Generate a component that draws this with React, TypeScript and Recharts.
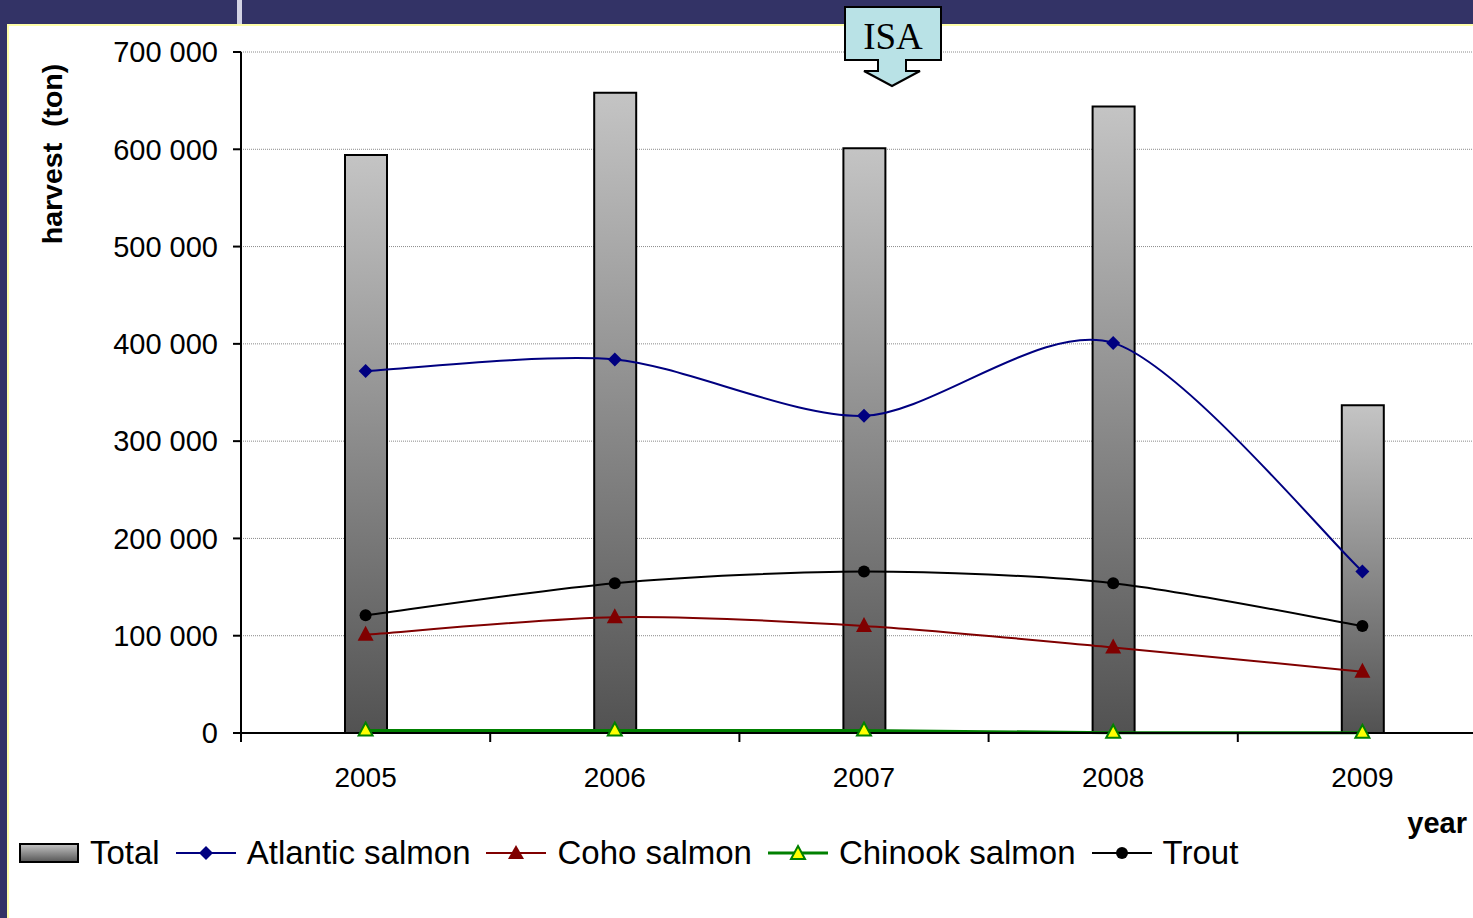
import React from "react";
import {
  ComposedChart,
  Bar,
  Line,
  XAxis,
  YAxis,
  CartesianGrid,
} from "recharts";

const years = ["2005", "2006", "2007", "2008", "2009"];
const total = [594000, 658000, 601000, 644000, 337000];
const atlantic = [372000, 384000, 326000, 401000, 166000];
const coho = [101000, 119000, 110000, 88000, 63000];
const chinook = [2500, 2500, 2500, 300, 200];
const trout = [121000, 154000, 166000, 154000, 110000];
const yTicks = [0, 100000, 200000, 300000, 400000, 500000, 600000, 700000];

const data = years.map((year, i) => ({
  year,
  total: total[i],
  atlantic: atlantic[i],
  coho: coho[i],
  chinook: chinook[i],
  trout: trout[i],
}));

const FONT = '"Liberation Sans", Arial, sans-serif';
const CHART_W = 1500;
const CHART_H = 918;
const MARGIN = { top: 52, right: 13, left: 0, bottom: 125 };
const Y_AXIS_W = 241;
const STEP = (CHART_W - MARGIN.left - MARGIN.right - Y_AXIS_W) / years.length;

const fmt = (v: number) => String(v).replace(/\B(?=(\d{3})+(?!\d))/g, " ");

// excel-like smoothed line (cardinal spline as cubic beziers)
// eslint-disable-next-line @typescript-eslint/no-explicit-any
const smoothCurve = (context: any) => {
  let pts: number[][] = [];
  return {
    areaStart() {},
    areaEnd() {},
    lineStart() {
      pts = [];
    },
    point(x: number, y: number) {
      pts.push([+x, +y]);
    },
    lineEnd() {
      if (!pts.length) return;
      context.moveTo(pts[0][0], pts[0][1]);
      const k = 0.14;
      for (let i = 0; i < pts.length - 1; i++) {
        const p0 = pts[i - 1] || pts[i];
        const p1 = pts[i];
        const p2 = pts[i + 1];
        const p3 = pts[i + 2] || p2;
        context.bezierCurveTo(
          p1[0] + (p2[0] - p0[0]) * k,
          p1[1] + (p2[1] - p0[1]) * k,
          p2[0] - (p3[0] - p1[0]) * k,
          p2[1] - (p3[1] - p1[1]) * k,
          p2[0],
          p2[1]
        );
      }
    },
  };
};

// eslint-disable-next-line @typescript-eslint/no-explicit-any
const diamondDot = (p: any) => (
  <polygon
    key={`d${p.index}`}
    points={`${p.cx},${p.cy - 7} ${p.cx + 7},${p.cy} ${p.cx},${p.cy + 7} ${p.cx - 7},${p.cy}`}
    fill="#000080"
  />
);
// eslint-disable-next-line @typescript-eslint/no-explicit-any
const cohoDot = (p: any) => (
  <polygon
    key={`c${p.index}`}
    points={`${p.cx},${p.cy - 9} ${p.cx + 8},${p.cy + 6} ${p.cx - 8},${p.cy + 6}`}
    fill="#800000"
  />
);
// eslint-disable-next-line @typescript-eslint/no-explicit-any
const chinookDot = (p: any) => (
  <polygon
    key={`k${p.index}`}
    points={`${p.cx},${p.cy - 8} ${p.cx + 7},${p.cy + 5} ${p.cx - 7},${p.cy + 5}`}
    fill="#ffff00"
    stroke="#008000"
    strokeWidth={2}
  />
);
// eslint-disable-next-line @typescript-eslint/no-explicit-any
const troutDot = (p: any) => (
  <circle key={`t${p.index}`} cx={p.cx} cy={p.cy} r={6} fill="#000" />
);

// eslint-disable-next-line @typescript-eslint/no-explicit-any
const YearTick = (props: any) => {
  const { x, y, payload } = props;
  const bx = x - STEP / 2;
  return (
    <g>
      <line x1={bx} y1={y} x2={bx} y2={y + 9} stroke="#000" strokeWidth={2} />
      <text
        x={x}
        y={y + 54}
        textAnchor="middle"
        fontSize={28}
        fontFamily={FONT}
        fill="#000"
      >
        {payload.value}
      </text>
    </g>
  );
};

const legendItems = [
  { name: "Total", kind: "bar" },
  { name: "Atlantic salmon", kind: "diamond", color: "#000080" },
  { name: "Coho salmon", kind: "tri", color: "#800000" },
  { name: "Chinook salmon", kind: "open", color: "#008000" },
  { name: "Trout", kind: "circle", color: "#000" },
];

const LegendIcon = ({ kind, color }: { kind: string; color?: string }) => (
  <svg width={60} height={22} style={{ display: "block" }}>
    <defs>
      <linearGradient id="legGrad" x1="0" y1="0" x2="0" y2="1">
        <stop offset="0%" stopColor="#c6c6c6" />
        <stop offset="100%" stopColor="#555555" />
      </linearGradient>
    </defs>
    {kind === "bar" ? (
      <rect x={1} y={2} width={58} height={18} fill="url(#legGrad)" stroke="#000" strokeWidth={2} />
    ) : (
      <line x1={0} y1={11} x2={60} y2={11} stroke={color} strokeWidth={kind === "open" ? 3 : 2} />
    )}
    {kind === "diamond" && <polygon points="30,4 37,11 30,18 23,11" fill={color} />}
    {kind === "tri" && <polygon points="30,3 38,17 22,17" fill={color} />}
    {kind === "open" && (
      <polygon points="30,4 37,17 23,17" fill="#ffff00" stroke={color} strokeWidth={2} />
    )}
    {kind === "circle" && <circle cx={30} cy={11} r={6} fill={color} />}
  </svg>
);

const App = () => {
  return (
    <div
      style={{
        position: "fixed",
        left: 0,
        top: 0,
        width: 1473,
        height: 918,
        overflow: "hidden",
        background: "#333366",
        fontFamily: FONT,
      }}
    >
      <div style={{ position: "absolute", left: 237, top: 0, width: 5, height: 25, background: "#d4d4e4" }} />
      <div
        style={{
          position: "absolute",
          left: 7,
          top: 24,
          right: 0,
          bottom: 0,
          background: "#fff",
          borderTop: "2px solid #ffffa8",
          borderLeft: "2px solid #ffffa8",
        }}
      />
      <div style={{ position: "absolute", left: 0, top: 0 }}>
        <ComposedChart width={CHART_W} height={CHART_H} data={data} margin={MARGIN}>
          <defs>
            <linearGradient id="barGrad" x1="0" y1="0" x2="0" y2="1">
              <stop offset="0%" stopColor="#c4c4c4" />
              <stop offset="100%" stopColor="#525252" />
            </linearGradient>
          </defs>
          <CartesianGrid vertical={false} stroke="#8a8a8a" strokeDasharray="1 1" />
          <XAxis
            dataKey="year"
            height={60}
            interval={0}
            tickLine={false}
            tickSize={0}
            tickMargin={0}
            axisLine={{ stroke: "#000", strokeWidth: 2 }}
            tick={<YearTick />}
          />
          <YAxis
            width={Y_AXIS_W}
            domain={[0, 700000]}
            ticks={yTicks}
            interval={0}
            tickFormatter={fmt}
            tickSize={8}
            tickMargin={15}
            axisLine={{ stroke: "#000", strokeWidth: 2 }}
            tickLine={{ stroke: "#000", strokeWidth: 2 }}
            tick={{ fill: "#000", fontSize: 29, fontFamily: FONT }}
          />
          <Bar
            dataKey="total"
            name="Total"
            barSize={42}
            fill="url(#barGrad)"
            stroke="#000"
            strokeWidth={2}
            isAnimationActive={false}
          />
          <Line
            dataKey="atlantic"
            name="Atlantic salmon"
            type={smoothCurve}
            stroke="#000080"
            strokeWidth={2}
            dot={diamondDot}
            activeDot={false}
            isAnimationActive={false}
          />
          <Line
            dataKey="coho"
            name="Coho salmon"
            type={smoothCurve}
            stroke="#800000"
            strokeWidth={2}
            dot={cohoDot}
            activeDot={false}
            isAnimationActive={false}
          />
          <Line
            dataKey="chinook"
            name="Chinook salmon"
            type={smoothCurve}
            stroke="#008000"
            strokeWidth={3}
            dot={chinookDot}
            activeDot={false}
            isAnimationActive={false}
          />
          <Line
            dataKey="trout"
            name="Trout"
            type={smoothCurve}
            stroke="#000"
            strokeWidth={2}
            dot={troutDot}
            activeDot={false}
            isAnimationActive={false}
          />
        </ComposedChart>
      </div>

      <svg
        width={1473}
        height={918}
        style={{ position: "absolute", left: 0, top: 0, pointerEvents: "none" }}
      >
        <text
          x={52}
          y={154}
          transform="rotate(-90 52 154)"
          textAnchor="middle"
          dominantBaseline="central"
          fontSize={28.5}
          fontWeight="bold"
          fontFamily={FONT}
          style={{ whiteSpace: "pre" }}
        >
          harvest  (ton)
        </text>
        <text x={1467} y={833} textAnchor="end" fontSize={29} fontWeight="bold" fontFamily={FONT}>
          year
        </text>
        <path
          d="M845,7 L941,7 L941,60 L906,60 L906,71 L920,71 L892,86 L864,71 L878,71 L878,60 L845,60 Z"
          fill="#b9e2e6"
          stroke="#000"
          strokeWidth={2}
        />
        <text
          x={893}
          y={49}
          textAnchor="middle"
          fontSize={37}
          fontFamily='"Liberation Serif", "Times New Roman", serif'
        >
          ISA
        </text>
      </svg>

      <div
        style={{
          position: "absolute",
          left: 19,
          top: 835,
          display: "flex",
          alignItems: "center",
          fontSize: 33,
          lineHeight: "36px",
          color: "#000",
          whiteSpace: "nowrap",
        }}
      >
        {legendItems.map((it) => (
          <div key={it.name} style={{ display: "flex", alignItems: "center", marginRight: 16 }}>
            <LegendIcon kind={it.kind} color={it.color} />
            <span style={{ marginLeft: 11 }}>{it.name}</span>
          </div>
        ))}
      </div>
    </div>
  );
};

export default App;
